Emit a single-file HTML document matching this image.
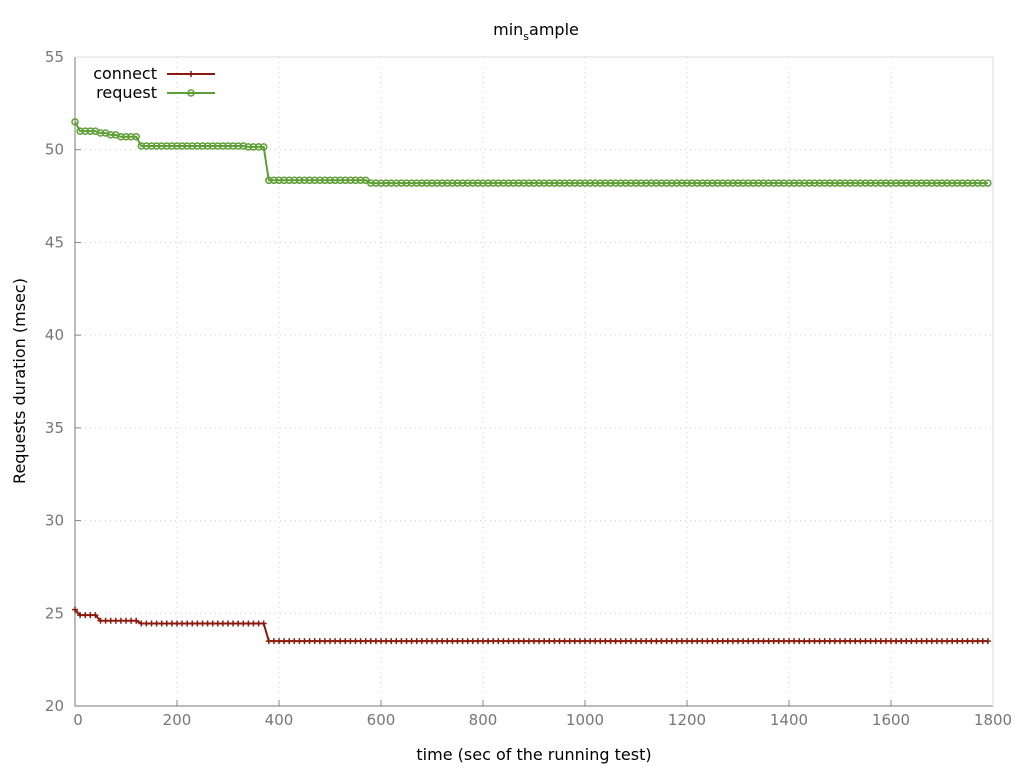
<!DOCTYPE html>
<html><head><meta charset="utf-8"><style>
body{margin:0;background:#fff}
svg text{font-family:"DejaVu Sans","Liberation Sans",sans-serif}
</style></head><body>
<svg id="chart" width="1024" height="768" xmlns="http://www.w3.org/2000/svg">
<text x="536" y="35" font-size="16" text-anchor="middle">min<tspan font-size="11" dy="5">s</tspan><tspan dy="-5">ample</tspan></text>
<text transform="translate(25,381) rotate(-90)" font-size="16" text-anchor="middle">Requests duration (msec)</text>
<text x="534" y="760" font-size="16" text-anchor="middle">time (sec of the running test)</text>
<g id="grid"></g>
<g id="axes"></g>
<g id="series"></g>
<g id="legend"></g>
</svg>
<script>
const xTicks=[0,200,400,600,800,1000,1200,1400,1600,1800];
const yTicks=[20,25,30,35,40,45,50,55];
const requestValues=[51.5,51.0,51.0,51.0,51.0,50.9,50.9,50.8,50.8,50.7,50.7,50.7,50.7,
50.2,50.2,50.2,50.2,50.2,50.2,50.2,50.2,50.2,50.2,50.2,50.2,50.2,50.2,50.2,50.2,50.2,50.2,50.2,50.2,50.2,
50.15,50.15,50.15,50.15,
48.35,48.35,48.35,48.35,48.35,48.35,48.35,48.35,48.35,48.35,48.35,48.35,48.35,48.35,48.35,48.35,48.35,48.35,48.35,48.35,
48.2,48.2,48.2,48.2,48.2,48.2,48.2,48.2,48.2,48.2,
48.2,48.2,48.2,48.2,48.2,48.2,48.2,48.2,48.2,48.2,
48.2,48.2,48.2,48.2,48.2,48.2,48.2,48.2,48.2,48.2,
48.2,48.2,48.2,48.2,48.2,48.2,48.2,48.2,48.2,48.2,
48.2,48.2,48.2,48.2,48.2,48.2,48.2,48.2,48.2,48.2,
48.2,48.2,48.2,48.2,48.2,48.2,48.2,48.2,48.2,48.2,
48.2,48.2,48.2,48.2,48.2,48.2,48.2,48.2,48.2,48.2,
48.2,48.2,48.2,48.2,48.2,48.2,48.2,48.2,48.2,48.2,
48.2,48.2,48.2,48.2,48.2,48.2,48.2,48.2,48.2,48.2,
48.2,48.2,48.2,48.2,48.2,48.2,48.2,48.2,48.2,48.2,
48.2,48.2,48.2,48.2,48.2,48.2,48.2,48.2,48.2,48.2,
48.2,48.2,48.2,48.2,48.2,48.2,48.2,48.2,48.2,48.2,
48.2,48.2];
const connectValues=[25.2,24.9,24.9,24.9,24.9,24.6,24.6,24.6,24.6,24.6,24.6,24.6,24.6,
24.45,24.45,24.45,24.45,24.45,24.45,24.45,24.45,24.45,24.45,24.45,24.45,24.45,24.45,24.45,24.45,24.45,24.45,24.45,24.45,24.45,24.45,24.45,24.45,24.45,
23.5,23.5,23.5,23.5,23.5,23.5,23.5,23.5,23.5,23.5,
23.5,23.5,23.5,23.5,23.5,23.5,23.5,23.5,23.5,23.5,
23.5,23.5,23.5,23.5,23.5,23.5,23.5,23.5,23.5,23.5,
23.5,23.5,23.5,23.5,23.5,23.5,23.5,23.5,23.5,23.5,
23.5,23.5,23.5,23.5,23.5,23.5,23.5,23.5,23.5,23.5,
23.5,23.5,23.5,23.5,23.5,23.5,23.5,23.5,23.5,23.5,
23.5,23.5,23.5,23.5,23.5,23.5,23.5,23.5,23.5,23.5,
23.5,23.5,23.5,23.5,23.5,23.5,23.5,23.5,23.5,23.5,
23.5,23.5,23.5,23.5,23.5,23.5,23.5,23.5,23.5,23.5,
23.5,23.5,23.5,23.5,23.5,23.5,23.5,23.5,23.5,23.5,
23.5,23.5,23.5,23.5,23.5,23.5,23.5,23.5,23.5,23.5,
23.5,23.5,23.5,23.5,23.5,23.5,23.5,23.5,23.5,23.5,
23.5,23.5,23.5,23.5,23.5,23.5,23.5,23.5,23.5,23.5,
23.5,23.5,23.5,23.5,23.5,23.5,23.5,23.5,23.5,23.5,
23.5,23.5];
const timeStep=10;
const X0=75,X1=993,Y0=706,Y1=57;
const xs=v=>X0+(v-0)/1800*(X1-X0);
const ys=v=>Y0-(v-20)/35*(Y0-Y1);
const NS='http://www.w3.org/2000/svg';
function mk(tag,parent,attrs){const e=document.createElementNS(NS,tag);for(const k in attrs)e.setAttribute(k,attrs[k]);parent.appendChild(e);return e;}
const grid=document.getElementById('grid'),axes=document.getElementById('axes'),series=document.getElementById('series'),legend=document.getElementById('legend');
xTicks.forEach(t=>{
  if(t>0&&t<1800){const l=mk('line',grid,{x1:xs(t),x2:xs(t),y1:Y1,y2:Y0,stroke:'#ccc','stroke-dasharray':'1,4'});
  
  }
  const tk=mk('line',axes,{x1:xs(t),x2:xs(t),y1:Y0,y2:Y0-6,stroke:'#888'});
  
  
  const tx=mk('text',axes,{x:xs(t)+(t===0?3:0),y:Y0+19,'font-size':15,'text-anchor':'middle',fill:'#777'});
  tx.textContent=t;
  
  
});
yTicks.forEach(t=>{
  if(t>20&&t<55){const l=mk('line',grid,{x1:X0,x2:X1,y1:ys(t),y2:ys(t),stroke:'#ccc','stroke-dasharray':'1,4'});
  
  }
  const tk=mk('line',axes,{x1:X0,x2:X0+6,y1:ys(t),y2:ys(t),stroke:'#888'});
  
  
  const tx=mk('text',axes,{x:X0-11,y:ys(t)+5,'font-size':15,'text-anchor':'end',fill:'#777'});
  tx.textContent=t;
  
  
});
const box=mk('path',axes,{d:`M${X0},${Y1}V${Y0}H${X1}`,stroke:'#777',fill:'none'});


const box2=mk('path',axes,{d:`M${X0},${Y1}H${X1}V${Y0}`,stroke:'#ddd',fill:'none'});


function drawSeries(vals,color,name,marker){
  const pts=vals.map((v,i)=>[xs(i*timeStep),ys(v)]);
  const pl=mk('polyline',series,{points:pts.map(p=>p.join(',')).join(' '),fill:'none',stroke:color,'stroke-width':2});
  
  
  pts.forEach(p=>{
    let m;
    if(marker==='circle'){m=mk('circle',series,{cx:p[0],cy:p[1],r:3,fill:'none',stroke:color,'stroke-width':1.5});}
    else{m=mk('path',series,{d:`M${p[0]-3},${p[1]}h6M${p[0]},${p[1]-3}v6`,stroke:color,'stroke-width':1.5});}
    
    
  });
}
drawSeries(connectValues,'#8b1a0e','connect','plus');
drawSeries(requestValues,'#5e9e36','request','circle');
[['connect','#8b1a0e',74,'plus'],['request','#5e9e36',93,'circle']].forEach(([n,c,y,mkr])=>{
  const g=mk('g',legend,{});
  
  
  const t=mk('text',g,{x:157,y:y+5,'font-size':16,'text-anchor':'end'});t.textContent=n;
  mk('line',g,{x1:167,x2:215,y1:y,y2:y,stroke:c,'stroke-width':2});
  if(mkr==='circle')mk('circle',g,{cx:191,cy:y,r:3,fill:'none',stroke:c,'stroke-width':1.5});
  else mk('path',g,{d:`M188,${y}h6M191,${y-3}v6`,stroke:c,'stroke-width':1.5});
});
</script>
</body></html>
